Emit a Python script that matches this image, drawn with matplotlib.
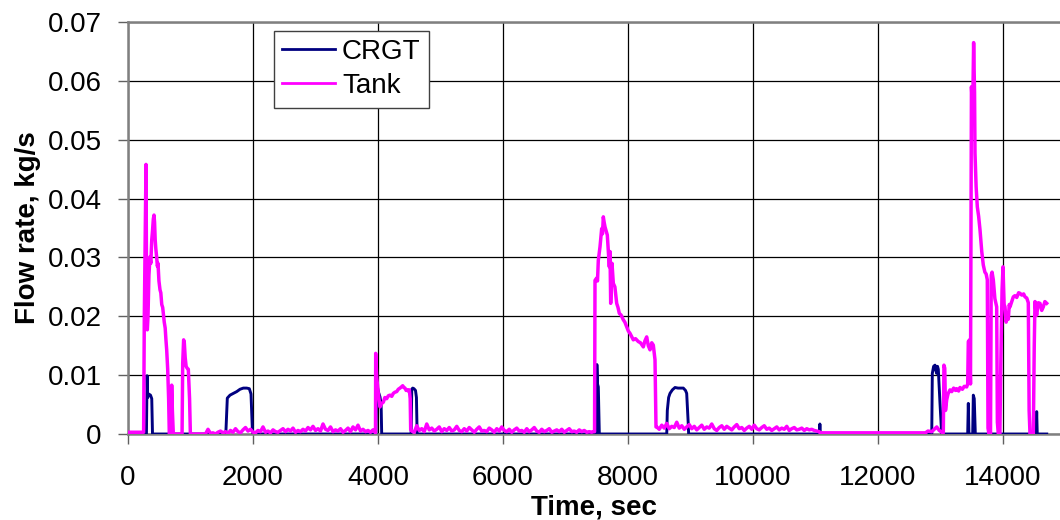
import numpy as np
import matplotlib
matplotlib.use("Agg")
import matplotlib.pyplot as plt

plt.rcParams['font.family'] = ['Liberation Sans', 'DejaVu Sans']

# ---------------- data ----------------
crgt_t = [0, 295, 305, 315, 330, 360, 380, 392,
          1565, 1589, 1632, 1685, 1739, 1792, 1845, 1899, 1941, 1968, 1989, 2000,
          3968, 3979, 4005, 4032, 4050, 4059,
          4530, 4540, 4555, 4575, 4600, 4615, 4626,
          7495, 7502, 7512, 7525, 7541,
          8620, 8629, 8650, 8672, 8710, 8752, 8800, 8850, 8885, 8920, 8939, 8965, 8970,
          11062, 11070, 11078,
          12860, 12869, 12890, 12912, 12925, 12939, 12952, 12965, 12992, 13019,
          13435, 13445, 13455, 13515, 13525, 13540, 13557,
          14530, 14539, 14548, 14700]
crgt_v = [0, 0, 0.0099, 0.0062, 0.0068, 0.0066, 0.0060, 0,
          0, 0.0061, 0.0066, 0.0069, 0.0072, 0.0076, 0.0078, 0.0078, 0.0077, 0.0068, 0.0010, 0,
          0, 0.0086, 0.0072, 0.0063, 0.0050, 0,
          0, 0.0076, 0.0078, 0.0077, 0.0074, 0.0062, 0,
          0, 0.0118, 0.0085, 0.0080, 0,
          0, 0.0040, 0.0062, 0.0069, 0.0075, 0.0079, 0.0078, 0.0078, 0.0078, 0.0074, 0.0069, 0.0015, 0,
          0, 0.0017, 0,
          0, 0.0103, 0.0115, 0.0117, 0.0108, 0.0103, 0.0115, 0.0110, 0.0052, 0,
          0, 0.0052, 0, 0, 0.0066, 0.0060, 0,
          0, 0.0038, 0, 0]

# Tank: hand-read pieces
tank_early_t = [0, 250, 261, 288, 300, 309, 320, 335, 352, 365, 380, 392, 405, 416, 425, 435,
                445, 459, 470, 480, 495, 512, 525, 540, 555, 565, 580, 595, 607, 619, 635, 650,
                661, 690, 699, 710, 725, 865, 875, 890, 901, 915, 930, 945, 965, 985, 998]
tank_early_v = [0.0003, 0.0003, 0.020, 0.0458, 0.019, 0.0177, 0.020, 0.027, 0.0301, 0.029,
                0.033, 0.0345, 0.0365, 0.0372, 0.036, 0.033, 0.0315, 0.030, 0.0285, 0.029,
                0.026, 0.0245, 0.024, 0.022, 0.0215, 0.0205, 0.019, 0.018, 0.016, 0.0143,
                0.011, 0.006, 0, 0, 0.0083, 0.004, 0, 0, 0.012, 0.016, 0.0155, 0.013,
                0.0115, 0.0112, 0.011, 0.006, 0]

# low-level noise, units of 1e-4 kg/s, sampled every 40 s
noise_a_start = 1000
noise_a = [0, 0, 0, 0, 0, 0, 0,
           8, 1, 2, 0, 3, 5, 2, 4, 1, 6, 3, 9, 4, 2, 7, 11, 5, 8, 3, 2,
           6, 4, 12, 3, 5, 2, 7, 4, 3, 6, 9, 4, 8, 5, 10, 3, 6, 4, 8, 5,
           11, 7, 13, 6, 9, 5, 17, 8, 6, 12, 4, 7, 5, 9, 3, 6, 10, 4, 12, 7,
           15, 5, 8, 4, 6, 3, 7, 2]

tank_mid1_t = [3963, 3979, 4005, 4032, 4060, 4085, 4110, 4139, 4165, 4192, 4220, 4245, 4270,
               4299, 4325, 4352, 4375, 4395, 4415, 4432, 4450, 4469, 4485, 4501, 4515, 4523]
tank_mid1_v = [0.0137, 0.0097, 0.0069, 0.0046, 0.0052, 0.0054, 0.0062, 0.0060, 0.0065, 0.0066,
               0.0064, 0.0069, 0.0071, 0.0072, 0.0076, 0.0078, 0.0080, 0.0082, 0.0079, 0.0078,
               0.0074, 0.0075, 0.0073, 0.0075, 0.0060, 0.0007]

noise_b_start = 4540
noise_b = [5, 3, 14, 6, 9, 4, 17, 7, 10, 5, 8, 12, 4, 9, 6, 11, 5, 7, 13, 6,
           4, 9, 5, 11, 7, 3, 8, 12, 5, 6, 4, 10, 7, 3, 9, 5, 12, 6, 4, 8,
           3, 7, 10, 5, 6, 3, 9, 4, 7, 11, 5, 3, 8, 4, 6, 9, 3, 5, 7, 4,
           8, 3, 6, 9, 4, 5, 3, 7, 4, 6, 3, 4, 3]

tank_mid2_t = [7445, 7465, 7472, 7499, 7512, 7525, 7552, 7579, 7592, 7605, 7618, 7632, 7650,
               7669, 7685, 7701, 7712, 7723, 7744, 7765, 7790, 7819, 7840, 7861, 7890, 7925,
               7950, 7979, 8005, 8032, 8060, 8085, 8120, 8165, 8200, 8245, 8270, 8299, 8325,
               8352, 8380, 8405, 8432, 8448]
tank_mid2_v = [0.0004, 0.0004, 0.0261, 0.0265, 0.026, 0.0295, 0.0318, 0.0349, 0.034, 0.0369,
               0.036, 0.0352, 0.0345, 0.0338, 0.031, 0.0284, 0.031, 0.0222, 0.029, 0.0256,
               0.025, 0.0222, 0.0215, 0.0205, 0.0202, 0.0194, 0.019, 0.0182, 0.0175, 0.0171,
               0.0165, 0.016, 0.0162, 0.0157, 0.0155, 0.0148, 0.0158, 0.0165, 0.015, 0.0143,
               0.0155, 0.0151, 0.0126, 0.0012]

noise_c_start = 8460
noise_c = [12, 8, 15, 10, 18, 9, 13, 11, 20, 10, 14, 8, 12, 16, 9, 13, 7, 11, 15, 8,
           12, 10, 17, 9, 6, 11, 14, 8, 13, 10, 7, 12, 16, 9, 11, 6, 10, 13, 8, 15,
           9, 7, 11, 14, 8, 10, 6, 9, 12, 7, 10, 8, 13, 6, 9, 11, 7, 8, 10, 6,
           9, 7, 8, 6, 5, 4]

tank_late_t = [11075, 12760, 12800, 12860, 12900, 12940, 12980, 13020, 13045, 13055, 13068,
               13080, 13099, 13120, 13152, 13180, 13210, 13240, 13259, 13290, 13312, 13350,
               13380, 13419, 13435, 13445, 13465, 13480, 13495, 13515, 13530, 13545, 13552,
               13570, 13589, 13610, 13632, 13660, 13685, 13710, 13730, 13749, 13760, 13775,
               13800, 13812, 13825, 13845, 13870, 13899, 13910, 13925, 13950, 13965, 13985,
               14000, 14018, 14032, 14050, 14069, 14085, 14100, 14112, 14140, 14165, 14190,
               14220, 14250, 14272, 14300, 14330, 14352, 14380, 14405, 14418, 14432, 14485,
               14500, 14512, 14525, 14539, 14565, 14592, 14620, 14645, 14670, 14699]
tank_late_v = [0.0002, 0.0002, 0.0005, 0.0004, 0.0008, 0.0012, 0.0006, 0.0003, 0.0002, 0.0117,
               0.0112, 0.004, 0.0058, 0.0068, 0.0075, 0.0072, 0.0078, 0.0074, 0.0077, 0.0073,
               0.0079, 0.0076, 0.0081, 0.008, 0.0085, 0.0157, 0.016, 0.0085, 0.059, 0.055,
               0.0665, 0.058, 0.0477, 0.042, 0.0386, 0.037, 0.0347, 0.031, 0.0287, 0.0275,
               0.0272, 0.0262, 0.001, 0, 0, 0.027, 0.0275, 0.0262, 0.023, 0.0216, 0.002, 0,
               0, 0.012, 0.0245, 0.0284, 0.022, 0.0216, 0.019, 0.0199, 0.0195, 0.022, 0.0216,
               0.0225, 0.0233, 0.0235, 0.0232, 0.024, 0.0239, 0.0236, 0.0238, 0.0233, 0.0231,
               0.0223, 0.004, 0, 0, 0.015, 0.0225, 0.021, 0.0202, 0.0223, 0.0222, 0.021,
               0.0216, 0.0225, 0.0222]

x_ticks = [0, 2000, 4000, 6000, 8000, 10000, 12000, 14000]
y_ticks = [0, 0.01, 0.02, 0.03, 0.04, 0.05, 0.06, 0.07]
y_tick_labels = ['0', '0.01', '0.02', '0.03', '0.04', '0.05', '0.06', '0.07']

# ---------------- assemble ----------------
step = 40
def noise_seg(start, vals):
    t = start + step * np.arange(len(vals))
    return t, np.array(vals) * 1e-4

na_t, na_v = noise_seg(noise_a_start, noise_a)
nb_t, nb_v = noise_seg(noise_b_start, noise_b)
nc_t, nc_v = noise_seg(noise_c_start, noise_c)

tank_t = np.concatenate([tank_early_t, na_t, tank_mid1_t, nb_t, tank_mid2_t, nc_t, tank_late_t])
tank_v = np.concatenate([tank_early_v, na_v, tank_mid1_v, nb_v, tank_mid2_v, nc_v, tank_late_v])

# ---------------- plot ----------------
fig = plt.figure(figsize=(10.6, 5.2), dpi=100)
ax = fig.add_axes([128/1060, 86/520, 932/1060, 412/520])

ax.plot(crgt_t, crgt_v, color='#000080', lw=2.1, label='CRGT', zorder=3)
ax.plot(tank_t, tank_v, color='#FF00FF', lw=2.5, label='Tank', zorder=4)

ax.set_xlim(0, 932 * 16)
ax.set_ylim(0, 0.07)
ax.set_xticks(x_ticks)
ax.set_yticks(y_ticks)
ax.set_yticklabels(y_tick_labels)

ax.grid(True, color='black', lw=0.9, zorder=0)
ax.set_axisbelow(True)

for s in ['left', 'bottom', 'top']:
    ax.spines[s].set_color('#808080')
    ax.spines[s].set_linewidth(1.8)
ax.spines['right'].set_visible(False)

ax.tick_params(axis='both', which='major', labelsize=20, length=7, width=1, color='#606060',
               direction='out')
ax.tick_params(axis='y', pad=12)
ax.tick_params(axis='x', pad=15)

ax.set_xlabel('Time, sec', fontsize=20, fontweight='bold', labelpad=3)
ax.set_ylabel('Flow rate, kg/s', fontsize=20, fontweight='bold', labelpad=5)

leg = ax.legend(loc='upper left', bbox_to_anchor=((274-128)/932, (434-30.5)/412),
                borderaxespad=0, fontsize=20, frameon=True, fancybox=False,
                framealpha=1, edgecolor='#404040', handlelength=1.9,
                handletextpad=0.25, labelspacing=0.3, borderpad=0.3)
leg.get_frame().set_linewidth(1.0)
for line in leg.get_lines():
    line.set_linewidth(2)

fig.savefig('out.png', dpi=100)
